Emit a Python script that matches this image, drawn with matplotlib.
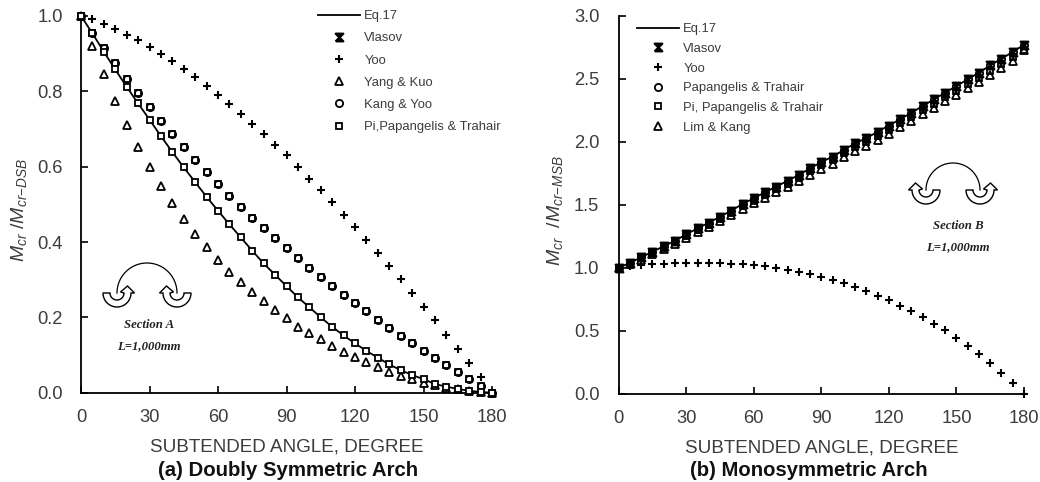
import numpy as np
import matplotlib
matplotlib.use("Agg")
import matplotlib.pyplot as plt
from matplotlib.path import Path
from matplotlib.patches import Polygon

W, H = 1040, 482
FONT = "Liberation Sans"
GREY = "#3c3c3c"

plt.rcParams["font.family"] = FONT
plt.rcParams["mathtext.fontset"] = "custom"
plt.rcParams["mathtext.it"] = FONT + ":italic"
plt.rcParams["mathtext.rm"] = FONT

angles = list(range(0, 185, 5))
x_ticks = [0, 30, 60, 90, 120, 150, 180]

# (a) doubly symmetric
a_eq17 = [1.0, .954, .905, .858, .812, .768, .725, .681, .639, .598, .559, .520, .483,
          .447, .412, .377, .343, .313, .283, .253, .227, .200, .175, .152, .131, .111,
          .093, .075, .060, .047, .036, .023, .016, .010, .005, .002, 0]
a_pi = a_eq17
a_yoo = [1.0, .991, .979, .965, .950, .935, .918, .899, .880, .859, .837, .814, .790,
         .766, .740, .713, .686, .658, .630, .600, .568, .538, .506, .472, .439, .405,
         .372, .337, .301, .265, .228, .192, .154, .117, .078, .041, 0]
a_yang = [1.0, .920, .845, .775, .711, .652, .598, .549, .503, .460, .421, .386, .352,
          .321, .293, .266, .243, .220, .197, .175, .159, .143, .125, .109, .095, .081,
          .069, .056, .045, .036, .027, .020, .013, .009, .005, .002, 0]
a_kang = [1.0, .954, .914, .874, .834, .796, .758, .721, .686, .652, .618, .585, .553,
          .523, .493, .465, .436, .410, .383, .357, .331, .308, .283, .260, .237, .216,
          .194, .173, .151, .131, .111, .093, .074, .055, .036, .019, 0]

# (b) monosymmetric
b_eq17 = [1.0, 1.040, 1.083, 1.128, 1.171, 1.215, 1.266, 1.313, 1.358, 1.406, 1.454,
          1.507, 1.552, 1.600, 1.644, 1.692, 1.737, 1.790, 1.840, 1.883, 1.936, 1.989,
          2.029, 2.081, 2.130, 2.180, 2.232, 2.285, 2.338, 2.391, 2.444, 2.497, 2.550,
          2.608, 2.661, 2.714, 2.772]
b_vlasov = b_eq17
b_papangelis = b_eq17
b_pi = [1.0, 1.035, 1.075, 1.118, 1.160, 1.203, 1.252, 1.298, 1.342, 1.389, 1.436,
        1.488, 1.532, 1.579, 1.622, 1.669, 1.713, 1.765, 1.814, 1.856, 1.908, 1.960,
        1.999, 2.050, 2.098, 2.147, 2.198, 2.250, 2.302, 2.354, 2.406, 2.458, 2.510,
        2.567, 2.619, 2.671, 2.728]
b_lim = [1.0, 1.028, 1.064, 1.106, 1.147, 1.189, 1.237, 1.282, 1.325, 1.371, 1.417,
         1.468, 1.511, 1.557, 1.599, 1.645, 1.688, 1.739, 1.787, 1.828, 1.879, 1.930,
         1.969, 2.019, 2.066, 2.115, 2.166, 2.218, 2.270, 2.322, 2.374, 2.426, 2.478,
         2.535, 2.587, 2.639, 2.726]
b_yoo = [1.0, 1.012, 1.025, 1.030, 1.033, 1.038, 1.038, 1.040, 1.040, 1.037, 1.033,
         1.028, 1.022, 1.012, .996, .982, .964, .948, .925, .900, .877, .845, .813,
         .779, .742, .699, .654, .607, .554, .504, .442, .379, .313, .241, .165, .085, 0]

hourglass = Path([(-1, -1), (1, 1), (-1, 1), (1, -1), (-1, -1)])


def style_axes(ax, ymax, yticks, ylabel, label_x, label_y, ypad):
    ax.set_xlim(0, 180)
    ax.set_ylim(0, ymax)
    ax.set_xticks(x_ticks)
    ax.set_yticks(yticks)
    ax.set_yticklabels([f"{t:.1f}" for t in yticks])
    ax.spines["top"].set_visible(False)
    ax.spines["right"].set_visible(False)
    ax.spines["left"].set_linewidth(1.3)
    ax.spines["bottom"].set_linewidth(1.3)
    ax.tick_params(axis="both", direction="in", length=5, width=1.2,
                   labelsize=13.2, labelcolor=GREY)
    ax.tick_params(axis="x", pad=12)
    ax.tick_params(axis="y", pad=ypad)
    ax.set_xlabel("SUBTENDED ANGLE, DEGREE", fontsize=13.6, color=GREY, labelpad=9)
    ax.set_ylabel(ylabel, fontsize=14, color=GREY)
    ax.yaxis.set_label_coords(label_x, label_y)


def points(ax, y, marker, size=5.0, mew=1.3, mfc="none", label=None):
    return ax.plot(angles, y, ls="none", marker=marker, ms=size, mew=mew, mfc=mfc,
                   mec="black", clip_on=False, label=label, zorder=4)[0]


def curved_arrow(ax, cx, cy, side):
    # block arrow bent into a bowl, head pointing up; side=-1 head on left, +1 on right
    r_out, r_in = 14.0, 7.0
    mid = (r_out + r_in) / 2
    t = np.linspace(0, np.pi, 40)
    outer = np.c_[-side * r_out * np.cos(t), r_out * np.sin(t)]
    inner = np.c_[-side * r_in * np.cos(t), r_in * np.sin(t)]
    head = np.array([(mid + 7, 0), (mid, -7), (mid - 7, -1), (r_in, 0)], dtype=float)
    head[:, 0] *= side
    pts = np.vstack([outer, head, inner[::-1]]) + (cx, cy)
    ax.add_patch(Polygon(pts, closed=True, fc="white", ec="black", lw=1.0, zorder=3))


def section_icon(ax, cx, cy, r, side, name, text_x, y1, y2):
    t = np.linspace(0, np.pi, 60)
    ax.plot(cx + r * np.cos(t), cy - r * np.sin(t), color="black", lw=0.9)
    curved_arrow(ax, cx - r, cy, -side)
    curved_arrow(ax, cx + r, cy, side)
    for y, s in ((y1, name), (y2, "L=1,000mm")):
        ax.text(text_x, y, s, family="Liberation Serif", style="italic", weight="bold",
                fontsize=9.2, ha="center", va="center", color="#222222")


fig = plt.figure(figsize=(W / 100, H / 100), dpi=100)
ax1 = fig.add_axes([81 / W, (H - 392.7) / H, 411 / W, 376.7 / H])
ax2 = fig.add_axes([618.7 / W, (H - 393.7) / H, 405.3 / W, 377.7 / H])

# left panel
ax1.plot(angles, a_eq17, color="black", lw=1.3, label="Eq.17", zorder=3)
ax1.plot([], [], ls="none", marker=hourglass, ms=5.5, mew=1.6, mfc="black", mec="black", label="Vlasov")
points(ax1, a_yoo, "+", size=6, mew=1.5, label="Yoo")
points(ax1, a_yang, "^", size=5.6, label="Yang & Kuo")
points(ax1, a_kang, "s", mfc="white")  # square sits on this curve too
points(ax1, a_kang, "o", size=5.2, label="Kang & Yoo")
points(ax1, a_pi, "s", mfc="white", label="Pi,Papangelis & Trahair")
style_axes(ax1, 1.0, [0, .2, .4, .6, .8, 1.0], r"$M_{cr}\ /M_{cr\mathrm{-}DSB}$",
           -0.127, 0.485, 13)

# right panel
ax2.plot(angles, b_eq17, color="black", lw=1.3, label="Eq.17", zorder=3)
points(ax2, b_vlasov, hourglass, size=5.5, mew=1.6, mfc="black", label="Vlasov")
points(ax2, b_yoo, "+", size=6, mew=1.5, label="Yoo")
points(ax2, b_papangelis, "o", size=5.2, label="Papangelis & Trahair")
points(ax2, b_pi, "s", label="Pi, Papangelis & Trahair")
points(ax2, b_lim, "^", size=5.6, label="Lim & Kang")
style_axes(ax2, 3.0, [0, .5, 1.0, 1.5, 2.0, 2.5, 3.0], r"$M_{cr}\ \ /M_{cr\mathrm{-}MSB}$",
           -0.132, 0.485, 14)

for ax, x, y, gap in ((ax1, 318, 10, .77), (ax2, 637, 23, .58)):
    ax.legend(loc="upper left", bbox_to_anchor=(x / W, 1 - y / H),
              bbox_transform=fig.transFigure, frameon=False, fontsize=9.4,
              handlelength=3.25, handletextpad=0.3, labelspacing=gap,
              borderpad=0.0, borderaxespad=0.0, labelcolor=GREY)

# overlay in pixel coordinates for the section sketches and captions
over = fig.add_axes([0, 0, 1, 1], facecolor="none")
over.set_xlim(0, W)
over.set_ylim(H, 0)
over.axis("off")
section_icon(over, 147, 293, 30, -1, "Section A", 149, 325, 346)
section_icon(over, 953, 190, 27, 1, "Section B", 958, 226, 247)
over.text(288, 470, "(a) Doubly Symmetric Arch", fontsize=14.7, weight="bold", ha="center",
          va="center", color="#111111")
over.text(808.5, 470, "(b) Monosymmetric Arch", fontsize=14.6, weight="bold", ha="center",
          va="center", color="#111111")

fig.savefig("out.png", dpi=100)
